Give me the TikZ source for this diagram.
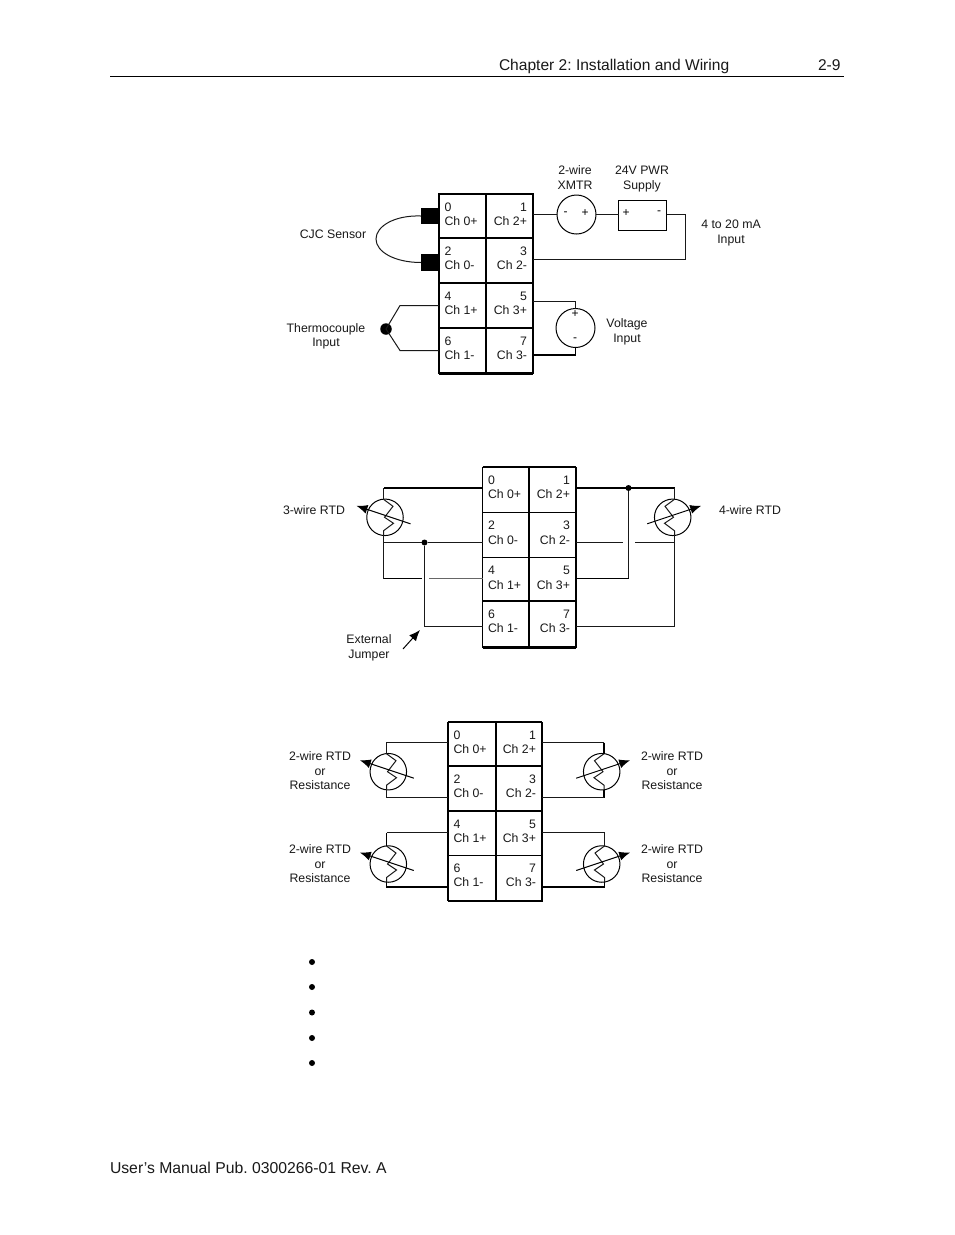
\documentclass[tikz,border=0pt]{standalone}
\usepackage{fontspec}
\setmainfont{Liberation Sans}
\frenchspacing
\usetikzlibrary{arrows.meta}
\tikzset{
  wire/.style={line width=1pt,draw=black!90},
  heavy/.style={line width=1.8pt,draw=black},
  grayheavy/.style={line width=1.6pt,draw=black!60},
  border/.style={line width=2pt,draw=black},
  cellbox/.style={draw=black,line width=1pt,rectangle,inner sep=0pt,outer sep=0pt},
  lab/.style={inner sep=0pt,outer sep=0pt,font=\fontsize{12.3}{14.5}\selectfont,align=center,text=black!90},
  pagetext/.style={inner sep=0pt,outer sep=0pt,font=\fontsize{15.57}{18}\selectfont,text=black!90},
  foottext/.style={inner sep=0pt,outer sep=0pt,font=\fontsize{15.75}{18}\selectfont,text=black!90},
  sym/.style={inner sep=0pt,outer sep=0pt,font=\fontsize{12}{13}\selectfont},
  dotnode/.style={circle,fill=black,inner sep=0pt,outer sep=0pt,minimum size=#1},
  rtdcircle/.style={circle,draw=black,line width=1pt,inner sep=0pt,outer sep=0pt,minimum size=36.5pt,fill=none},
  tiparrow/.style={line width=1pt,-{Latex[length=11pt,width=9pt]}},
  blacksq/.style={fill=black,inner sep=0pt,outer sep=0pt,rectangle}
}
% name, x1, x2, y1, y2, number, channel
\newcommand{\cellL}[7]{%
  \node[cellbox,minimum width={(#3-#2)*1pt},minimum height={(#5-#4)*1pt}] (#1) at ({(#2+#3)/2},{(#4+#5)/2}) {};
  \node[lab,anchor=mid west] (#1n) at (#2+5.5,#4+14.5) {#6};
  \node[lab,anchor=mid west] (#1c) at (#2+5.5,#4+29) {#7};}
\newcommand{\cellR}[7]{%
  \node[cellbox,minimum width={(#3-#2)*1pt},minimum height={(#5-#4)*1pt}] (#1) at ({(#2+#3)/2},{(#4+#5)/2}) {};
  \node[lab,anchor=mid east] (#1n) at (#3-6,#4+14.5) {#6};
  \node[lab,anchor=mid east] (#1c) at (#3-6,#4+29) {#7};}
\newcommand{\tblock}[8]{%
  \cellL{#1-0}{#2}{#3}{#5}{#6}{0}{Ch 0+}
  \cellR{#1-1}{#3}{#4}{#5}{#6}{1}{Ch 2+}
  \cellL{#1-2}{#2}{#3}{#6}{#7}{2}{Ch 0-}
  \cellR{#1-3}{#3}{#4}{#6}{#7}{3}{Ch 2-}
  \cellL{#1-4}{#2}{#3}{#7}{#8}{4}{Ch 1+}
  \cellR{#1-5}{#3}{#4}{#7}{#8}{5}{Ch 3+}}
\newcommand{\tblockend}[6]{%
  \cellL{#1-6}{#2}{#3}{#5}{#6}{6}{Ch 1-}
  \cellR{#1-7}{#3}{#4}{#5}{#6}{7}{Ch 3-}}
% name, cx, cy, leadx, dir (1: arrow to the left, -1: arrow to the right)
\newcommand{\rtd}[5]{%
  \node[rtdcircle] (#1) at (#2,#3) {};
  \coordinate (#1top) at (#4,#3-18);
  \coordinate (#1bot) at (#4,#3+18);
  \draw[wire,line join=miter] (#1top) -- (#4+#5*9.5,#3-11) -- (#4+#5*1,#3) -- (#4+#5*10,#3+6) -- (#4,#3+13.5) -- (#1bot);
  \coordinate (#1tail) at (#2+#5*25.5,#3+6.5);
  \coordinate (#1tip) at (#2-#5*28.5,#3-11.5);
  \draw[tiparrow] (#1tail) -- (#1tip);}
\begin{document}
\begin{tikzpicture}[x=1pt,y=-1pt]
\useasboundingbox (0,0) rectangle (954,1235);
\fill[white] (0,0) rectangle (954,1235);
% page furniture
\node[pagetext,anchor=mid west] (head) at (499,67.5) {Chapter 2: Installation and Wiring};
\node[pagetext,anchor=mid west] (pagenum) at (818,67.5) {2-9};
\coordinate (ruleL) at (110,76.5);
\coordinate (ruleR) at (844,76.5);
\draw[line width=1pt] (ruleL) -- (ruleR);
\node[foottext,anchor=mid west] (foot) at (110,1171) {User’s Manual Pub. 0300266-01 Rev. A};
\foreach \i/\y in {1/962,2/987,3/1012.5,4/1038,5/1063}
  \node[dotnode=6pt] (bul\i) at (312,\y) {};

% ---------- Block 1 ----------
\tblock{a}{439}{486}{533}{194}{238}{283}{328}
\tblockend{a}{439}{486}{533}{328}{373}
\draw[border] (a-0.north west) rectangle (a-7.south east);
\draw[border] (a-0.north east) -- (a-6.south east);
\draw[border] (a-2.north west) -- (a-3.north east);
\draw[border] (a-4.north west) -- (a-5.north east);
\draw[border] (a-6.north west) -- (a-7.north east);
\draw[line width=3pt] (a-6.south west) -- (a-7.south east);

\node[blacksq,minimum width=18pt,minimum height=16pt,anchor=east] (cjcA) at (a-0.west |- 0,216) {};
\node[blacksq,minimum width=18pt,minimum height=17pt,anchor=east] (cjcB) at (a-2.west |- 0,262.5) {};
\draw[wire] (cjcA.west) .. controls (395,215) and (376,226) .. (376,239) .. controls (376,252) and (395,262.5) .. (cjcB.west);
\node[lab] (cjcL) at (333,234) {CJC Sensor};

\node[dotnode=11.5pt] (tc) at (386,329) {};
\draw[wire] (a-4.west |- 0,305.5) -- (400,305.5) -- (tc.center) -- (400,350.5) -- (a-6.west |- 0,350.5);
\node[lab] (tcL) at (326,336.5) {Thermocouple\\Input};

\node[circle,draw=black,line width=1pt,minimum size=39pt,inner sep=0pt,outer sep=0pt] (xmtr) at (576.5,214.5) {};
\node[sym] (xm) at (565.5,214) {-};
\node[sym] (xp) at (585,213.5) {+};
\node[rectangle,draw=black,line width=1pt,minimum width=48pt,minimum height=30pt,inner sep=0pt,outer sep=0pt] (psu) at (642.5,215.5) {};
\node[sym] (pp) at (626,213) {+};
\node[sym] (pm) at (659,213) {-};
\node[lab] (xmL) at (575,177.5) {2-wire\\XMTR};
\node[lab] (psL) at (642,179) {24V PWR\\Supply};
\node[lab] (maL) at (731,233) {4 to 20 mA\\Input};
\coordinate (loopA) at (685.5,214.5);
\coordinate (loopB) at (685.5,259.5);
\draw[wire] (a-1.east |- xmtr.west) -- (xmtr.west);
\draw[wire] (xmtr.east) -- (psu.west |- xmtr.east);
\draw[wire] (psu.east |- loopA) -- (loopA) -- (loopB) -- (a-3.east |- loopB);

\node[circle,draw=black,line width=1pt,minimum size=39pt,inner sep=0pt,outer sep=0pt] (volt) at (575.5,328) {};
\node[sym] (vp) at (575,314) {+};
\node[sym] (vm) at (575,340) {-};
\node[lab] (vL) at (627,332) {Voltage\\Input};
\draw[wire] (a-5.east |- 0,301.5) -- (volt.north |- 0,301.5) -- (volt.north);
\draw[line width=1.4pt] (volt.south) -- (volt.south |- 0,355) -- (a-7.east |- 0,355);

% ---------- Block 2 ----------
\tblock{b}{482.5}{529}{576}{467}{512.5}{557.5}{601}
\tblockend{b}{482.5}{529}{576}{601}{647}
\draw[line width=1.6pt] (b-0.north west) -- (b-6.south west);
\draw[line width=1.6pt] (b-0.north east) -- (b-6.south east);
\draw[line width=1.6pt] (b-1.north east) -- (b-7.south east);
\draw[line width=2pt] (b-0.north west) -- (b-1.north east);
\draw[line width=2pt] (b-6.north west) -- (b-7.north east);
\draw[line width=3pt] (b-6.south west) -- (b-7.south east);

\rtd{r3}{385}{517.3}{383.5}{1}
\node[lab] (r3L) at (314,510) {3-wire RTD};
\node[dotnode=6pt] (j1) at (424.5,542.5) {};
\draw[heavy] (b-0.west |- 0,488) -- (r3top |- 0,488);
\draw[wire] (r3top |- 0,488) -- (r3top);
\draw[wire] (r3bot) -- (r3bot |- j1) -- (r3bot |- 0,578.5);
\draw[heavy] (r3bot |- 0,578.5) -- (421.5,578.5) coordinate (gapA);
\draw[grayheavy] (429,578.5) coordinate (gapB) -- (b-4.west |- 0,578.5);
\draw[wire] (r3bot |- j1) -- (j1) -- (b-2.west |- j1);
\draw[wire] (j1) -- (j1 |- 0,626.5) -- (b-6.west |- 0,626.5);
\node[lab] (jmpL) at (369,648) {External\\Jumper};
\coordinate (jmpA) at (403,649);
\coordinate (jmpB) at (420,630);
\draw[tiparrow] (jmpA) -- (jmpB);

\rtd{r4}{672.7}{517.3}{674.5}{-1}
\node[lab] (r4L) at (750,510) {4-wire RTD};
\node[dotnode=6pt] (j2) at (628.5,488) {};
\draw[heavy] (b-1.east |- j2) -- (r4top |- j2);
\draw[wire] (r4top |- j2) -- (r4top);
\draw[wire] (r4bot) -- (r4bot |- 0,626.5) -- (b-7.east |- 0,626.5);
\draw[wire] (j2) -- (j2 |- 0,578.5);
\draw[heavy] (j2 |- 0,578.5) -- (b-5.east |- 0,578.5);
\draw[wire] (b-3.east |- 0,542.5) -- (623,542.5) coordinate (gapC);
\draw[wire] (635,542.5) coordinate (gapD) -- (r4bot |- 0,542.5);

% ---------- Block 3 ----------
\tblock{c}{448}{496}{542}{722}{766}{811}{855}
\tblockend{c}{448}{496}{542}{855}{901}
\draw[line width=1.6pt] (c-0.north west) -- (c-6.south west);
\draw[line width=1.6pt] (c-0.north east) -- (c-6.south east);
\draw[line width=1.8pt] (c-1.north east) -- (c-7.south east);
\draw[line width=2pt] (c-0.north west) -- (c-1.north east);
\draw[line width=2pt] (c-2.north west) -- (c-3.north east);
\draw[line width=2pt] (c-4.north west) -- (c-5.north east);
\draw[line width=2pt] (c-6.south west) -- (c-7.south east);

\rtd{r5}{388.3}{771.7}{386.5}{1}
\rtd{r6}{388.3}{864}{386.5}{1}
\rtd{r7}{601.7}{771.7}{604}{-1}
\rtd{r8}{601.7}{864}{604.5}{-1}
\draw[wire] (c-0.west |- 0,742.5) -- (r5top |- 0,742.5) -- (r5top);
\draw[wire] (r5bot) -- (r5bot |- 0,797.5) -- (c-2.west |- 0,797.5);
\draw[wire] (c-4.west |- 0,832.5) -- (r6top |- 0,832.5);
\draw[heavy] (r6top |- 0,832.5) -- (r6top);
\draw[heavy] (r6bot) -- (r6bot |- 0,887) -- (c-6.west |- 0,887);
\draw[wire] (c-1.east |- 0,742.5) -- (r7top |- 0,742.5);
\draw[heavy] (r7top |- 0,742.5) -- (r7top);
\draw[heavy] (r7bot) -- (r7bot |- 0,797.5);
\draw[wire] (r7bot |- 0,797.5) -- (c-3.east |- 0,797.5);
\draw[wire] (c-5.east |- 0,832.5) -- (r8top |- 0,832.5) -- (r8top);
\draw[heavy] (r8bot) -- (r8bot |- 0,887) -- (c-7.east |- 0,887);
\node[lab] (r5L) at (320,771) {2-wire RTD\\or\\Resistance};
\node[lab] (r6L) at (320,864) {2-wire RTD\\or\\Resistance};
\node[lab] (r7L) at (672,771) {2-wire RTD\\or\\Resistance};
\node[lab] (r8L) at (672,864) {2-wire RTD\\or\\Resistance};
\end{tikzpicture}
\end{document}
